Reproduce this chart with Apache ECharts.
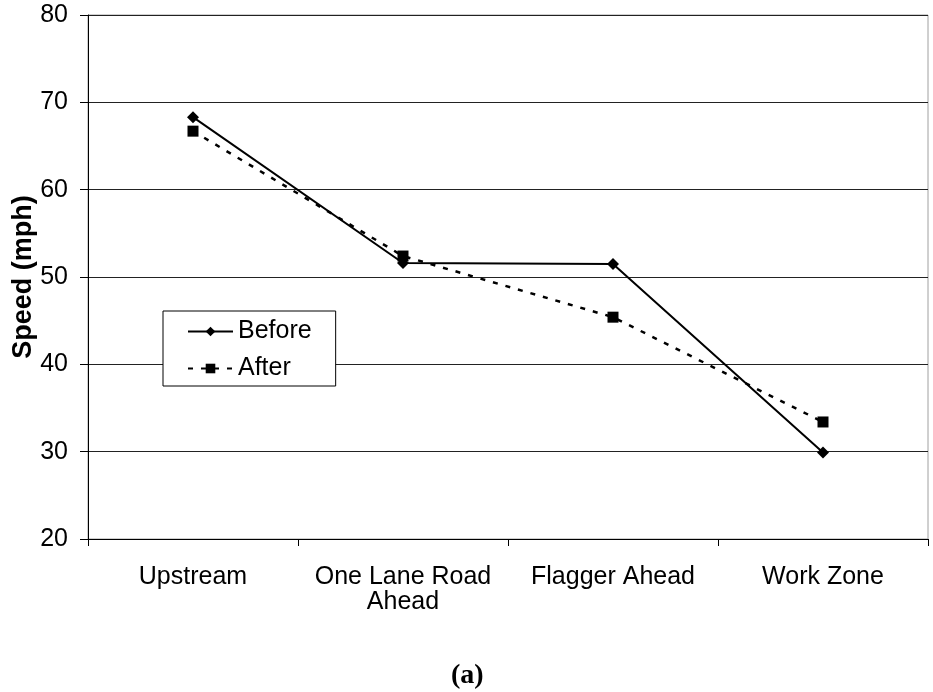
<!DOCTYPE html>
<html>
<head>
<meta charset="utf-8">
<script src="https://cdn.jsdelivr.net/npm/echarts@6/dist/echarts.min.js"></script>
<style>
html,body{margin:0;padding:0;background:#fff;}
#c{width:933px;height:692px;}
</style>
</head>
<body>
<div id="c"></div>
<script>
var categories = ['Upstream', 'One Lane Road Ahead', 'Flagger Ahead', 'Work Zone'];
var beforeValues = [68.3, 51.6, 51.5, 29.9];
var afterValues = [66.7, 52.4, 45.4, 33.4];
var yTicks = [20, 30, 40, 50, 60, 70, 80];

var FONT = '"Liberation Sans", Arial, sans-serif';
var chart = echarts.init(document.getElementById('c'), null, {renderer: 'canvas'});
chart.setOption({
  backgroundColor: '#fff',
  animation: false,
  grid: {
    left: 88, right: 5, top: 15, bottom: 153,
    containLabel: false,
    outerBoundsMode: 'none',
    show: true, borderColor: '#a0a0a0', borderWidth: 1, backgroundColor: 'transparent'
  },
  legend: {
    orient: 'vertical',
    left: 163, top: 311,
    padding: [8, 24, 5, 24],
    itemGap: 12,
    itemWidth: 45, itemHeight: 12,
    backgroundColor: '#fff',
    borderColor: '#000', borderWidth: 1,
    textStyle: {fontFamily: FONT, fontSize: 25, color: '#000'},
    data: ['Before', 'After']
  },
  xAxis: {
    type: 'category',
    data: categories,
    boundaryGap: true,
    axisLine: {lineStyle: {color: '#000', width: 1}},
    axisTick: {show: true, length: 7, lineStyle: {color: '#000'}},
    axisLabel: {
      fontFamily: FONT, fontSize: 25, color: '#000', margin: 26, lineHeight: 25,
      interval: 0,
      formatter: function (v) { return v.replace('Road ', 'Road\n'); }
    },
    splitLine: {show: false}
  },
  yAxis: {
    type: 'value',
    min: yTicks[0], max: yTicks[yTicks.length - 1], interval: 10,
    name: 'Speed (mph)',
    nameLocation: 'middle',
    nameGap: 51,
    nameMoveOverlap: false,
    nameRotate: 90,
    nameTextStyle: {fontFamily: FONT, fontSize: 27, fontWeight: 'bold', color: '#000'},
    axisLine: {show: true, lineStyle: {color: '#000', width: 1}},
    axisTick: {show: true, length: 8, lineStyle: {color: '#000'}},
    axisLabel: {fontFamily: FONT, fontSize: 25, color: '#000', margin: 20},
    splitLine: {show: true, lineStyle: {color: '#222', width: 1}}
  },
  series: [
    {
      name: 'Before',
      type: 'line',
      data: beforeValues,
      symbol: 'diamond',
      symbolSize: 12,
      showAllSymbol: true,
      lineStyle: {color: '#000', width: 2, type: 'solid'},
      itemStyle: {color: '#000', borderWidth: 0},
      z: 3
    },
    {
      name: 'After',
      type: 'line',
      data: afterValues,
      symbol: 'rect',
      symbolSize: 11,
      showAllSymbol: true,
      lineStyle: {color: '#000', width: 2.5, type: [5, 8]},
      itemStyle: {color: '#000', borderWidth: 0},
      z: 4
    }
  ],
  graphic: [
    {
      type: 'text',
      left: 451, top: 662,
      style: {
        text: '(a)',
        font: 'bold 28px "Liberation Serif", "Times New Roman", serif',
        fill: '#000'
      }
    }
  ]
});
</script>
</body>
</html>
